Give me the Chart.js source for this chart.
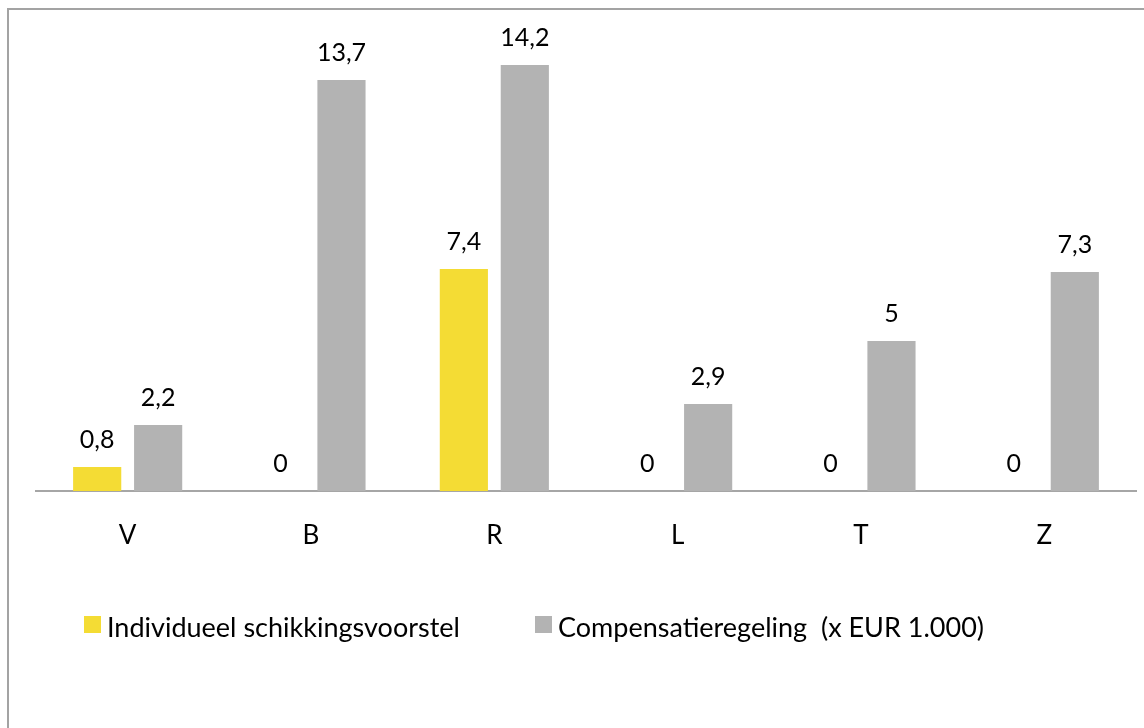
<!DOCTYPE html>
<html>
<head>
<meta charset="utf-8">
<script src="https://cdn.jsdelivr.net/npm/chart.js@4/dist/chart.umd.min.js"></script>
<style>
  html, body { margin: 0; padding: 0; background: #ffffff; }
  body { width: 1144px; height: 728px; position: relative; overflow: hidden; }
  #frame { position: absolute; left: 7px; top: 8px; width: 1160px; height: 760px; border: 2px solid #a3a3a3; box-sizing: border-box; }
  #wrap { position: absolute; left: 0; top: 0; width: 1144px; height: 728px; }
</style>
</head>
<body>
<div id="frame"></div>
<div id="wrap"><canvas id="chart" width="1144" height="728"></canvas></div>
<script>
const categories = ['V', 'B', 'R', 'L', 'T', 'Z'];
const seriesNames = ['Individueel schikkingsvoorstel', 'Compensatieregeling  (x EUR 1.000)'];
const individueel = [0.8, 0, 7.4, 0, 0, 0];
const compensatie = [2.2, 13.7, 14.2, 2.9, 5, 7.3];
const seriesColors = ['#f4dc34', '#b3b3b3'];

const FONT = 'Lato, "Open Sans", sans-serif';

function fmt(v) {
  return String(v).replace('.', ',');
}

// Value labels above every bar, taken from the same data as the bars
const valueLabels = {
  id: 'valueLabels',
  afterDatasetsDraw(chart) {
    const ctx = chart.ctx;
    ctx.save();
    ctx.font = '25px ' + FONT;
    ctx.fillStyle = '#000000';
    ctx.textAlign = 'center';
    ctx.textBaseline = 'alphabetic';
    chart.data.datasets.forEach((ds, di) => {
      const meta = chart.getDatasetMeta(di);
      meta.data.forEach((bar, i) => {
        ctx.fillText(fmt(ds.data[i]), bar.x, bar.y - 19);
      });
    });
    ctx.restore();
  }
};

// Legend row below the axis
const bottomLegend = {
  id: 'bottomLegend',
  afterDraw(chart) {
    const ctx = chart.ctx;
    ctx.save();
    ctx.font = '27px ' + FONT;
    ctx.textBaseline = 'alphabetic';
    ctx.textAlign = 'left';
    const boxTop = 616;
    const baseline = 637;
    const starts = [84, 535];
    chart.data.datasets.forEach((ds, di) => {
      const x = starts[di];
      ctx.fillStyle = ds.backgroundColor;
      ctx.fillRect(x, boxTop, 17, 17);
      ctx.fillStyle = '#000000';
      ctx.fillText(ds.label, x + 23, baseline);
    });
    ctx.restore();
  }
};

new Chart(document.getElementById('chart'), {
  type: 'bar',
  data: {
    labels: categories,
    datasets: [
      { label: seriesNames[0], data: individueel, backgroundColor: seriesColors[0] },
      { label: seriesNames[1], data: compensatie, backgroundColor: seriesColors[1] }
    ]
  },
  options: {
    responsive: false,
    animation: false,
    devicePixelRatio: 1,
    categoryPercentage: 0.665,
    barPercentage: 0.79,
    layout: { padding: { left: 36, right: 8, top: 11, bottom: 0 } },
    plugins: {
      legend: { display: false },
      tooltip: { enabled: false }
    },
    scales: {
      x: {
        grid: { display: false, drawTicks: false },
        border: { display: true, color: '#a6a6a6', width: 2 },
        ticks: { color: '#000000', font: { family: FONT, size: 26 }, padding: 29 },
        afterFit(scale) { scale.height = 237; }
      },
      y: {
        display: false,
        min: 0,
        max: 16
      }
    }
  },
  plugins: [valueLabels, bottomLegend]
});
</script>
</body>
</html>
